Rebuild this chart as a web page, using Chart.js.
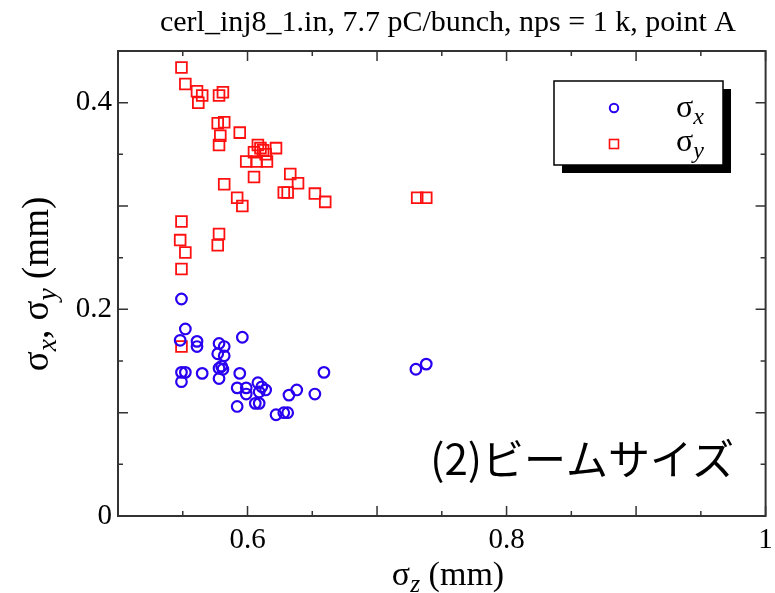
<!DOCTYPE html>
<html>
<head>
<meta charset="utf-8">
<script src="https://cdn.jsdelivr.net/npm/chart.js@4"></script>
<style>
  html, body { margin: 0; padding: 0; background: #fff; }
  #wrap { width: 775px; height: 593px; }
</style>
</head>
<body>
<div id="wrap"><canvas id="c"></canvas></div>
<script>
// sigma_x data (circles)
const zForX = [0.549, 0.552, 0.548, 0.561, 0.561, 0.578, 0.582, 0.577, 0.582, 0.596,
  0.549, 0.552, 0.549, 0.565, 0.578, 0.581, 0.578, 0.594, 0.592, 0.599,
  0.599, 0.608, 0.611, 0.614, 0.609, 0.606, 0.609, 0.592, 0.622, 0.628,
  0.631, 0.632, 0.638, 0.652, 0.659, 0.730, 0.738, 0.580];
const sigmaX = [0.210, 0.181, 0.170, 0.169, 0.164, 0.167, 0.164, 0.157, 0.155, 0.173,
  0.139, 0.139, 0.130, 0.138, 0.143, 0.142, 0.133, 0.138, 0.124, 0.124,
  0.118, 0.129, 0.125, 0.122, 0.120, 0.109, 0.109, 0.106, 0.098, 0.100,
  0.100, 0.117, 0.122, 0.118, 0.139, 0.142, 0.147, 0.145];

// sigma_y data (squares)
const zForY = [0.549, 0.552, 0.561, 0.565, 0.562, 0.578, 0.581, 0.577, 0.582, 0.579,
  0.578, 0.594, 0.608, 0.612, 0.605, 0.599, 0.607, 0.615, 0.622, 0.605,
  0.633, 0.639, 0.628, 0.631, 0.652, 0.660, 0.592, 0.596, 0.582, 0.549,
  0.548, 0.552, 0.549, 0.578, 0.577, 0.549, 0.731, 0.738, 0.610, 0.614];
const sigmaY = [0.434, 0.418, 0.411, 0.407, 0.400, 0.407, 0.410, 0.380, 0.381, 0.368,
  0.359, 0.371, 0.359, 0.354, 0.352, 0.343, 0.343, 0.343, 0.356, 0.328,
  0.331, 0.322, 0.313, 0.313, 0.312, 0.304, 0.308, 0.300, 0.321, 0.285,
  0.267, 0.255, 0.239, 0.273, 0.262, 0.164, 0.308, 0.308, 0.356, 0.350];

const xTickLabels = ['0.6', '0.8', '1'];
const yTickLabels = ['0', '0.2', '0.4'];
const xMajor = [0.5, 0.6, 0.7, 0.8, 0.9, 1.0];
const xMinor = [0.55, 0.65, 0.75, 0.85, 0.95];
const yMajor = [0, 0.1, 0.2, 0.3, 0.4];
const yMinor = [0.05, 0.15, 0.25, 0.35, 0.45];

const titleText = 'cerl_inj8_1.in, 7.7 pC/bunch, nps = 1 k, point A';
const noteText = '(2)ビームサイズ';

const BLUE = '#2a00f0';
const RED = '#ff1010';
const SERIF = '"Liberation Serif", "DejaVu Serif", serif';

// draws text pieces, some as italic subscripts
function richWidth(ctx, parts, size) {
  let w = 0;
  parts.forEach(p => {
    ctx.font = p.sub ? `italic ${size * 0.75}px ${SERIF}` : `${size}px ${SERIF}`;
    w += ctx.measureText(p.t).width;
  });
  return w;
}
function drawRich(ctx, parts, x, y, size, align) {
  const w = richWidth(ctx, parts, size);
  let cx = align === 'center' ? x - w / 2 : x;
  ctx.textAlign = 'left';
  ctx.textBaseline = 'alphabetic';
  ctx.fillStyle = '#000';
  parts.forEach(p => {
    ctx.font = p.sub ? `italic ${size * 0.75}px ${SERIF}` : `${size}px ${SERIF}`;
    ctx.fillText(p.t, cx, p.sub ? y + size * 0.22 : y);
    cx += ctx.measureText(p.t).width;
  });
}

const decor = {
  id: 'decor',
  afterDraw(chart) {
    const ctx = chart.ctx;
    const a = chart.chartArea;
    const xs = chart.scales.x, ys = chart.scales.y;
    ctx.save();
    // frame
    ctx.strokeStyle = '#333';
    ctx.lineWidth = 2;
    ctx.strokeRect(a.left, a.top, a.right - a.left, a.bottom - a.top);
    // inward ticks on all four sides
    ctx.lineWidth = 1.5;
    ctx.beginPath();
    const tx = (v, len) => {
      const px = xs.getPixelForValue(v);
      ctx.moveTo(px, a.bottom); ctx.lineTo(px, a.bottom - len);
      ctx.moveTo(px, a.top); ctx.lineTo(px, a.top + len);
    };
    const ty = (v, len) => {
      const py = ys.getPixelForValue(v);
      ctx.moveTo(a.left, py); ctx.lineTo(a.left + len, py);
      ctx.moveTo(a.right, py); ctx.lineTo(a.right - len, py);
    };
    xMajor.forEach(v => tx(v, 10));
    xMinor.forEach(v => tx(v, 5));
    yMajor.forEach(v => ty(v, 10));
    yMinor.forEach(v => ty(v, 5));
    ctx.stroke();

    // title
    ctx.fillStyle = '#000';
    ctx.font = `30px ${SERIF}`;
    ctx.textAlign = 'center';
    ctx.textBaseline = 'alphabetic';
    ctx.fillText(titleText, 448, 31);

    // axis titles
    drawRich(ctx, [{t: 'σ'}, {t: 'z', sub: true}, {t: ' (mm)'}], 448, 585, 34, 'center');
    ctx.save();
    ctx.translate(48, 284);
    ctx.rotate(-Math.PI / 2);
    drawRich(ctx, [{t: 'σ'}, {t: 'x', sub: true}, {t: ', σ'}, {t: 'y', sub: true}, {t: ' (mm)'}], 0, 0, 37, 'center');
    ctx.restore();

    // legend box with shadow
    const lx = 554, ly = 81, lw = 169, lh = 84;
    ctx.fillStyle = '#000';
    ctx.fillRect(lx + 8, ly + 8, lw, lh);
    ctx.fillStyle = '#fff';
    ctx.fillRect(lx, ly, lw, lh);
    ctx.strokeStyle = '#000';
    ctx.lineWidth = 1.5;
    ctx.strokeRect(lx, ly, lw, lh);
    ctx.lineWidth = 2;
    ctx.strokeStyle = BLUE;
    ctx.beginPath();
    ctx.arc(614, 108, 4.2, 0, Math.PI * 2);
    ctx.stroke();
    ctx.strokeStyle = RED;
    ctx.lineWidth = 1.6;
    ctx.strokeRect(609.5, 139.5, 9, 9);
    drawRich(ctx, [{t: 'σ'}, {t: 'x', sub: true}], 676, 117, 32, 'left');
    drawRich(ctx, [{t: 'σ'}, {t: 'y', sub: true}], 676, 151, 32, 'left');

    // note
    ctx.fillStyle = '#000';
    ctx.font = '42px "Noto Sans CJK JP"';
    ctx.textAlign = 'right';
    ctx.textBaseline = 'middle';
    ctx.fillText(noteText, 734, 459);
    ctx.restore();
  }
};

const pick = (list) => (v) => {
  const s = String(+(+v).toFixed(2));
  return list.includes(s) ? s : '';
};

new Chart(document.getElementById('c'), {
  type: 'scatter',
  data: {
    datasets: [{
      label: 'σx',
      data: zForX.map((z, i) => ({x: z, y: sigmaX[i]})),
      pointStyle: 'circle',
      pointRadius: 5.3,
      pointBorderWidth: 2.2,
      borderColor: BLUE,
      backgroundColor: 'rgba(0,0,0,0)'
    }, {
      label: 'σy',
      data: zForY.map((z, i) => ({x: z, y: sigmaY[i]})),
      pointStyle: 'rect',
      pointRadius: 7.6,
      pointBorderWidth: 1.8,
      borderColor: RED,
      backgroundColor: 'rgba(0,0,0,0)'
    }]
  },
  options: {
    responsive: true,
    maintainAspectRatio: false,
    animation: false,
    layout: { padding: { left: 0, right: 7, top: 51, bottom: 0 } },
    plugins: {
      legend: { display: false },
      tooltip: { enabled: false }
    },
    scales: {
      x: {
        type: 'linear',
        min: 0.5, max: 1,
        grid: { display: false, drawTicks: true, tickLength: 7 },
        border: { display: false },
        ticks: {
          stepSize: 0.1,
          autoSkip: false,
          maxRotation: 0,
          padding: 0,
          color: '#000',
          font: { family: SERIF, size: 29 },
          callback: pick(xTickLabels)
        },
        afterFit(scale) { scale.height = 77; }
      },
      y: {
        type: 'linear',
        min: 0, max: 0.45,
        grid: { display: false, drawTicks: true, tickLength: 6 },
        border: { display: false },
        ticks: {
          stepSize: 0.1,
          autoSkip: false,
          padding: 0,
          color: '#000',
          font: { family: SERIF, size: 29 },
          callback: pick(yTickLabels)
        },
        afterFit(scale) { scale.width = 118; }
      }
    }
  },
  plugins: [decor]
});
</script>
</body>
</html>
